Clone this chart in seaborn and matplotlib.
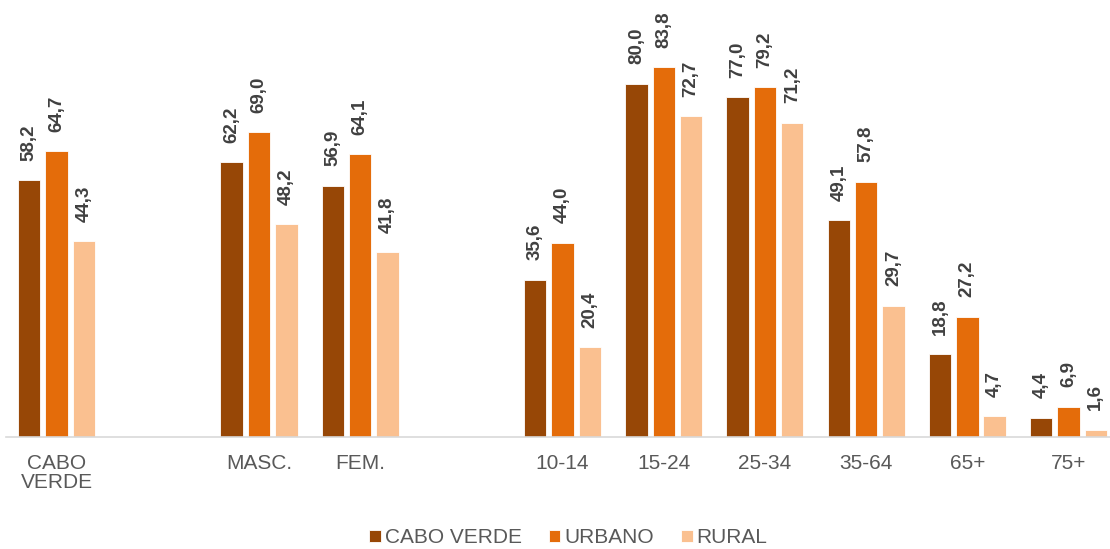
import matplotlib
matplotlib.use("Agg")
import matplotlib.pyplot as plt
import seaborn as sns
import pandas as pd

# Category slots; blank entries leave spacing between the three blocks
categories = ["CABO\nVERDE", " ", "MASC.", "FEM.", "  ", "10-14", "15-24", "25-34", "35-64", "65+", "75+"]
series = ["CABO VERDE", "URBANO", "RURAL"]
cabo_verde = [58.2, 62.2, 56.9, 35.6, 80.0, 77.0, 49.1, 18.8, 4.4]
urbano = [64.7, 69.0, 64.1, 44.0, 83.8, 79.2, 57.8, 27.2, 6.9]
rural = [44.3, 48.2, 41.8, 20.4, 72.7, 71.2, 29.7, 4.7, 1.6]
colors = ["#974706", "#E46C0A", "#FAC090"]

filled = [c for c in categories if c.strip()]
rows = []
for name, vals in zip(series, [cabo_verde, urbano, rural]):
    for cat, v in zip(filled, vals):
        rows.append({"categoria": cat, "serie": name, "valor": v})
df = pd.DataFrame(rows)

sns.set_theme(style="white")
plt.rcParams["font.family"] = ["Liberation Sans", "DejaVu Sans"]

fig = plt.figure(figsize=(11.10, 5.49), dpi=100)
ax = fig.add_axes([6 / 1110, 112 / 549, 1104 / 1110, 437 / 549])

sns.barplot(data=df, x="categoria", y="valor", hue="serie", order=categories,
            hue_order=series, palette=colors, width=0.81, gap=0.18,
            edgecolor="white", linewidth=0.6, saturation=1, ax=ax)

for cont in ax.containers:
    ax.bar_label(cont, fmt=lambda v: f"{v:.1f}".replace(".", ","), rotation=90,
                 padding=14, fontsize=13.5, fontweight="bold", color="#404040")

ax.set_xlim(-0.5, 10.41)
ax.set_ylim(0, 99)
ax.set_xlabel("")
ax.set_ylabel("")
ax.set_yticks([])
for side in ["top", "right", "left"]:
    ax.spines[side].set_visible(False)
ax.spines["bottom"].set_color("#D9D9D9")
ax.spines["bottom"].set_linewidth(1.2)
ax.tick_params(axis="x", length=0, pad=12, labelsize=15, labelcolor="#595959")
for lbl in ax.get_xticklabels():
    lbl.set_horizontalalignment("center")
    lbl.set_verticalalignment("top")
    lbl.set_linespacing(1.0)

handles, labels = ax.get_legend_handles_labels()
ax.legend(handles, labels, loc="lower center", bbox_to_anchor=(0.512, -0.031),
          bbox_transform=fig.transFigure, ncol=3, frameon=False,
          fontsize=15, labelcolor="#595959", handlelength=0.55, handleheight=0.55,
          handletextpad=0.2, columnspacing=1.3)

fig.savefig("out.png", dpi=100)
